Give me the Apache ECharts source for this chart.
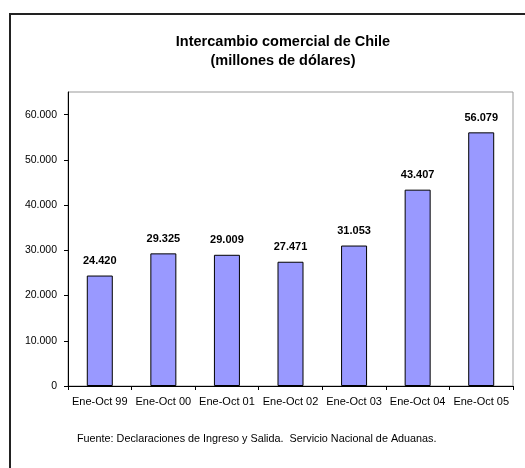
<!DOCTYPE html>
<html>
<head>
<meta charset="utf-8">
<script src="https://cdn.jsdelivr.net/npm/echarts@6/dist/echarts.min.js"></script>
<style>
  html, body { margin: 0; padding: 0; background: #fff; }
  #chart { width: 525px; height: 468px; }
</style>
</head>
<body>
<div id="chart"></div>
<script>
var periodos = ['Ene-Oct 99', 'Ene-Oct 00', 'Ene-Oct 01', 'Ene-Oct 02', 'Ene-Oct 03', 'Ene-Oct 04', 'Ene-Oct 05'];
var intercambio = [24420, 29325, 29009, 27471, 31053, 43407, 56079];
var yTicks = [0, 10000, 20000, 30000, 40000, 50000, 60000];

function miles(v) {
  return String(v).replace(/\B(?=(\d{3})+(?!\d))/g, '.');
}

var myChart = echarts.init(document.getElementById('chart'), null, { renderer: 'canvas' });

var option = {
  backgroundColor: '#fff',
  animation: false,
  textStyle: { fontFamily: 'Liberation Sans, Arial, sans-serif' },
  title: {
    text: 'Intercambio comercial de Chile\n(millones de dólares)',
    left: 278,
    top: 28,
    textAlign: 'center',
    textStyle: { fontSize: 14.5, fontWeight: 'bold', color: '#000', lineHeight: 18.5 }
  },
  graphic: [
    {
      type: 'rect',
      shape: { x: 10, y: 14, width: 530, height: 470 },
      style: { fill: 'none', stroke: '#222', lineWidth: 2 }
    },
    {
      type: 'text',
      left: 77,
      top: 434,
      style: {
        text: 'Fuente: Declaraciones de Ingreso y Salida.  Servicio Nacional de Aduanas.',
        fontSize: 10.8,
        fontFamily: 'Liberation Sans, Arial, sans-serif',
        fill: '#000'
      }
    }
  ],
  grid: {
    left: 68,
    right: 12,
    top: 92,
    bottom: 82,
    show: true,
    borderColor: '#999',
    borderWidth: 1
  },
  xAxis: {
    type: 'category',
    data: periodos,
    axisLine: { lineStyle: { color: '#000', width: 1 } },
    axisTick: { show: true, length: 4, alignWithLabel: false, lineStyle: { color: '#000' } },
    axisLabel: { color: '#000', fontSize: 11, margin: 10, interval: 0 }
  },
  yAxis: {
    type: 'value',
    min: 0,
    max: 65000,
    interval: 5000,
    axisLine: { show: true, lineStyle: { color: '#000', width: 1 } },
    axisTick: { show: true, length: 4, inside: false, customValues: yTicks, lineStyle: { color: '#000' } },
    splitLine: { show: false },
    axisLabel: {
      color: '#000',
      fontSize: 10.5,
      margin: 11,
      customValues: yTicks,
      formatter: function (v) { return miles(v); }
    }
  },
  series: [
    {
      type: 'bar',
      data: intercambio,
      barWidth: 26,
      itemStyle: { color: '#9999FF', borderColor: '#000', borderWidth: 1 },
      label: {
        show: true,
        position: 'top',
        distance: 9,
        color: '#000',
        fontSize: 11,
        fontWeight: 'bold',
        formatter: function (p) { return miles(p.value); }
      }
    }
  ]
};

option && myChart.setOption(option);
</script>
</body>
</html>
